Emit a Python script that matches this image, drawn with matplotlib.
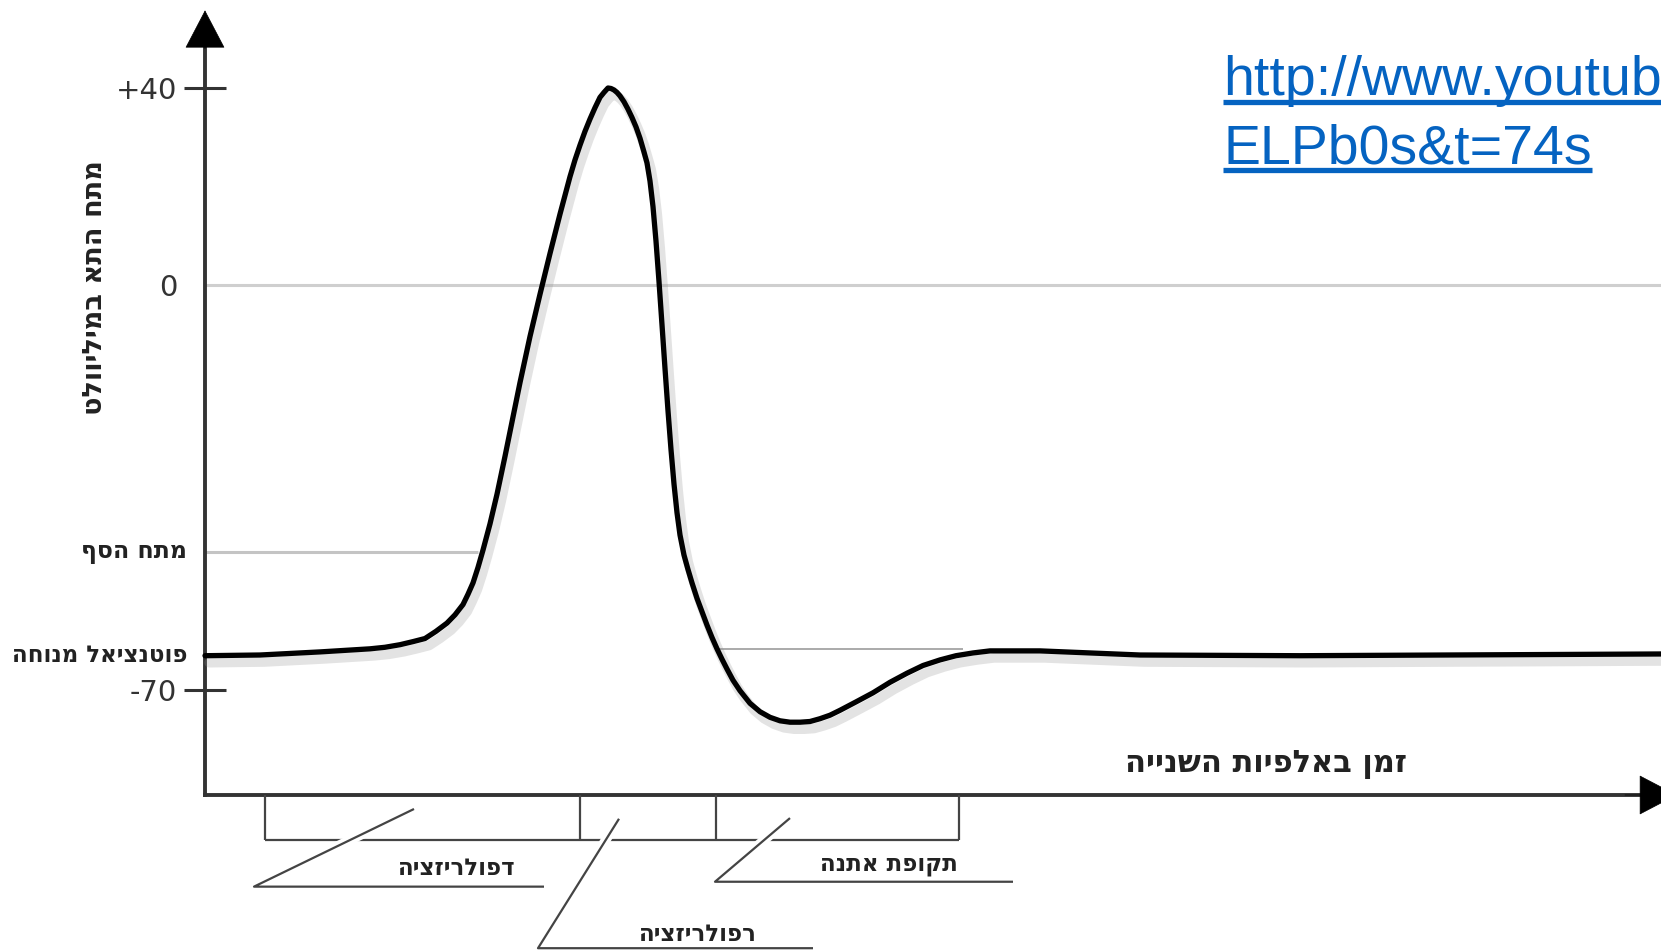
import matplotlib
matplotlib.use('Agg')
import matplotlib.pyplot as plt
import matplotlib.patheffects as pe
from matplotlib.lines import Line2D
import numpy as np

# action potential trace (time in ms, voltage in mV)
time_ms = [0.00, 0.55, 1.15, 1.65, 1.80, 1.95, 2.08, 2.20, 2.31, 2.42,
           2.50, 2.58, 2.63, 2.68, 2.73, 2.78, 2.85, 2.92, 3.00, 3.07,
           3.15, 3.25, 3.35, 3.45, 3.55, 3.65, 3.70, 3.75, 3.80, 3.85,
           3.90, 3.95, 3.99, 4.03, 4.06, 4.09, 4.12, 4.15, 4.19, 4.23,
           4.27, 4.31, 4.35, 4.39, 4.42, 4.45, 4.48, 4.51, 4.54, 4.57,
           4.60, 4.63, 4.66, 4.69, 4.72, 4.75, 4.79, 4.83, 4.87, 4.92,
           4.97, 5.02, 5.07, 5.12, 5.17, 5.22, 5.28, 5.35, 5.45, 5.55,
           5.65, 5.75, 5.85, 5.95, 6.05, 6.15, 6.25, 6.35, 6.51, 6.68,
           6.85, 7.02, 7.18, 7.35, 7.51, 7.68, 7.85, 8.02, 8.35, 8.85,
           9.35, 10.95, 14.56]
voltage_mv = [-65.1, -65.0, -64.7, -64.4, -64.25, -64.0, -63.7, -63.4, -62.7, -61.9,
              -61.1, -60.1, -59.1, -58.0, -56.5, -54.6, -49.2, -43.1, -35.3, -28.2,
              -20.1, -10.6, -1.9, 6.4, 14.4, 22.0, 25.4, 28.4, 31.2, 33.7,
              36.0, 38.1, 39.1, 40.0, 39.9, 39.6, 39.1, 38.4, 37.2, 35.7,
              34.0, 32.1, 29.8, 27.0, 24.8, 21.1, 15.9, 8.9, 0.7, -8.2,
              -17.2, -25.9, -33.9, -41.0, -46.9, -51.5, -55.3, -56.7, -58.0, -59.5,
              -60.8, -62.1, -63.3, -64.4, -65.6, -67.0, -68.6, -70.1, -71.9, -73.1,
              -73.9, -74.4, -74.6, -74.6, -74.5, -74.1, -73.6, -72.9, -71.7, -70.4,
              -68.9, -67.6, -66.5, -65.7, -65.1, -64.8, -64.6, -64.6, -64.6, -64.8,
              -65.0, -65.1, -64.9]

y_ticks = [40, 0, -70]
y_tick_labels = ['+40', '0', '-70']
threshold_mv = -55
resting_mv = -65
after_rest_mv = -64.4
# phase boundaries under the time axis: depolarisation, repolarisation, refractory
phase_edges = [0.60, 3.75, 5.11, 7.54]

y_title = 'מתח התא במיליוולט'
x_title = 'זמן באלפיות השנייה'
threshold_label = 'מתח הסף'
resting_label = 'פוטנציאל מנוחה'
phase_labels = ['דפולריזציה', 'רפולריזציה', 'תקופת אתנה']
url_lines = ['http://www.youtub', 'ELPb0s&t=74s']


def heb(s):
    # matplotlib has no bidi support, so lay Hebrew out right to left by hand
    return s[::-1]


# the drawing is schematic: the voltage axis is not linear
mv_knots = np.array([-107.3, -85, -70, -65, -55, 0, 40, 57.9])
pos_knots = -np.array([951, 795, 690, 655, 552, 285, 88, 0], dtype=float)


def fwd(v):
    return np.interp(v, mv_knots, pos_knots)


def inv(p):
    return np.interp(p, pos_knots, mv_knots)


W, H = 1661, 951
fig = plt.figure(figsize=(W / 100, H / 100), dpi=100)
ax = fig.add_axes([0, 0, 1, 1])
ax.set_yscale('function', functions=(fwd, inv))
ax.set_xlim(-2.05, 14.56)
ax.set_ylim(-107.3, 57.9)
for s in ax.spines.values():
    s.set_visible(False)
ax.spines['left'].set_position(('data', 0))
ax.set_xticks([])
ax.set_yticks(y_ticks)
ax.set_yticklabels(y_tick_labels)
ax.yaxis.set_minor_locator(matplotlib.ticker.NullLocator())
ax.tick_params(axis='y', direction='inout', length=30, width=2.2, color='#333333',
               labelsize=21, labelcolor='#333333', pad=5)
ax.yaxis.get_major_ticks()[1].tick1line.set_visible(False)

dark = '#333333'
txt_col = '#222222'
hfont = 'DejaVu Sans'

# guide lines
ax.hlines(0, 0, 14.56, color='#cfcfcf', lw=2.2, zorder=1)
ax.hlines(threshold_mv, 0, 2.73, color='#c4c4c4', lw=2.2, zorder=1)
ax.hlines(after_rest_mv, 5.12, 7.58, color='#aaaaaa', lw=1.4, zorder=1)

# axes with arrow heads
ax.plot([0, 0], [-85.3, 50], color=dark, lw=2.8, solid_capstyle='butt', clip_on=False)
ax.plot([-0.02, 14.4], [-85, -85], color=dark, lw=2.8, solid_capstyle='butt', clip_on=False)
arrow_kw = dict(arrowstyle='-|>,head_length=1.3,head_width=0.68', mutation_scale=20,
                lw=0.5, color='black', shrinkA=0, shrinkB=0)
ax.annotate('', xy=(0, 55.8), xytext=(0, 48), arrowprops=arrow_kw, annotation_clip=False)
ax.annotate('', xy=(14.72, -85), xytext=(14.2, -85), arrowprops=arrow_kw, annotation_clip=False)

# the action potential
ax.plot(time_ms, voltage_mv, color='black', lw=3.8, solid_joinstyle='round',
        solid_capstyle='round', zorder=5,
        path_effects=[pe.SimpleLineShadow(offset=(3, -5), shadow_color='#909090',
                                          alpha=0.25, linewidth=7),
                      pe.Normal()])

# phase brackets below the time axis
br_kw = dict(color='#444444', lw=1.6, zorder=3)
bottom = -91.4
ax.hlines(bottom, phase_edges[0], phase_edges[-1], **br_kw)
for e in phase_edges:
    ax.vlines(e, bottom, -85, **br_kw)

leader_kw = dict(color='#444444', lw=1.6, zorder=4, solid_capstyle='butt',
                 path_effects=[pe.Stroke(linewidth=7, foreground='white'), pe.Normal()])
leaders = [([2.09, 0.49, 3.39], [-87.0, -98.1, -98.1]),
           ([4.14, 3.33, 6.08], [-88.4, -106.9, -106.9]),
           ([5.85, 5.10, 8.08], [-88.3, -97.4, -97.4])]
label_pos = [(2.52, -95.5), (4.93, -104.9), (6.84, -95.0)]
for (lx, ly), txt, (tx, ty) in zip(leaders, phase_labels, label_pos):
    ax.plot(lx, ly, **leader_kw)
    ax.text(tx, ty, heb(txt), ha='center', va='center', fontsize=16.5,
            fontweight='bold', color=txt_col, family=hfont, zorder=6)

# level labels
ax.text(-0.18, threshold_mv, heb(threshold_label), ha='right', va='center',
        fontsize=17, fontweight='bold', color=txt_col, family=hfont)
ax.text(-0.18, resting_mv, heb(resting_label), ha='right', va='center',
        fontsize=16.5, fontweight='bold', color=txt_col, family=hfont)

# axis titles
fig.text(95 / W, 1 - 288 / H, heb(y_title), rotation=90, ha='center', va='center',
         fontsize=19.5, fontweight='bold', color=txt_col, family=hfont)
ax.text(10.61, -80.6, heb(x_title), ha='center', va='center', fontsize=22,
        fontweight='bold', color=txt_col, family=hfont)

# hyperlink
link = '#0563C1'
renderer = fig.canvas.get_renderer()
for line, base in zip(url_lines, [95, 163]):
    t = fig.text(1223 / W, 1 - base / H, line, ha='left', va='baseline', fontsize=40,
                 color=link, family='Liberation Sans')
    bb = t.get_window_extent(renderer)
    x1 = min(bb.x1, W)
    uy = 1 - (base + 7) / H
    fig.add_artist(Line2D([1223 / W, x1 / W], [uy, uy], color=link, lw=3.8,
                          solid_capstyle='butt'))

fig.savefig('out.png', dpi=100, facecolor='white')
